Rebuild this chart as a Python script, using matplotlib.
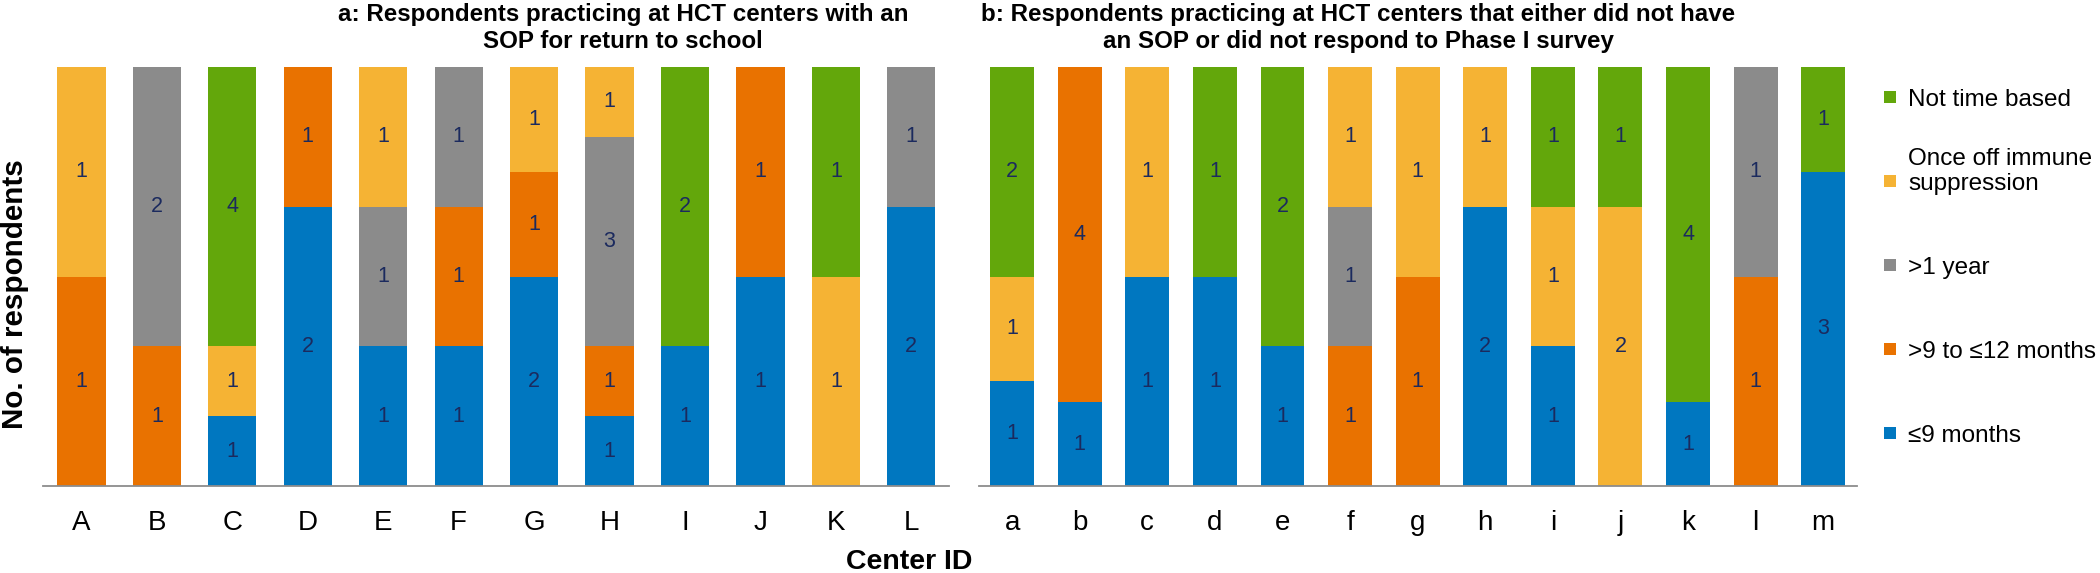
import matplotlib
matplotlib.use('Agg')
import matplotlib.pyplot as plt
from matplotlib.patches import Rectangle
import numpy as np

plt.rcParams['font.family'] = ['Liberation Sans', 'DejaVu Sans']

# stack order from bottom to top
categories = ['≤9 months', '>9 to ≤12 months', '>1 year',
              'Once off immune\nsuppression', 'Not time based']
colors = ['#0077C0', '#E97200', '#8B8B8B', '#F5B334', '#63A70B']

# panel a: centers with an SOP
centers_a = ['A', 'B', 'C', 'D', 'E', 'F', 'G', 'H', 'I', 'J', 'K', 'L']
a_le9 = [0, 0, 1, 2, 1, 1, 2, 1, 1, 1, 0, 2]
a_9to12 = [1, 1, 0, 1, 0, 1, 1, 1, 0, 1, 0, 0]
a_gt1y = [0, 2, 0, 0, 1, 1, 0, 3, 0, 0, 0, 1]
a_once = [1, 0, 1, 0, 1, 0, 1, 1, 0, 0, 1, 0]
a_notime = [0, 0, 4, 0, 0, 0, 0, 0, 2, 0, 1, 0]

# panel b: no SOP / no phase I response
centers_b = ['a', 'b', 'c', 'd', 'e', 'f', 'g', 'h', 'i', 'j', 'k', 'l', 'm']
b_le9 = [1, 1, 1, 1, 1, 0, 0, 2, 1, 0, 1, 0, 3]
b_9to12 = [0, 4, 0, 0, 0, 1, 1, 0, 0, 0, 0, 1, 0]
b_gt1y = [0, 0, 0, 0, 0, 1, 0, 0, 0, 0, 0, 1, 0]
b_once = [1, 0, 1, 0, 0, 1, 1, 1, 1, 2, 0, 0, 0]
b_notime = [2, 0, 0, 1, 2, 0, 0, 0, 1, 1, 4, 0, 1]

W, H = 2100, 573
fig = plt.figure(figsize=(W / 100, H / 100), dpi=100)


def px(x0, y0, x1, y1):
    # pixel box (top-left origin) -> figure fraction rect
    return [x0 / W, 1 - y1 / H, (x1 - x0) / W, (y1 - y0) / H]


def stacked(ax, labels, series, width, xlim):
    data = np.array(series, dtype=float)
    totals = data.sum(axis=0)
    x = np.arange(len(labels))
    bottom = np.zeros(len(labels))
    for vals, col in zip(data, colors):
        frac = vals / totals
        ax.bar(x, frac, width, bottom=bottom, color=col, linewidth=0)
        for xi, v, f, b in zip(x, vals, frac, bottom):
            if v > 0:
                ax.text(xi, b + f / 2, f'{int(v)}', ha='center', va='center',
                        fontsize=15.5, color='#1B2A5E')
        bottom += frac
    ax.set_xlim(*xlim)
    ax.set_ylim(0, 1)
    ax.set_xticks(x)
    ax.set_xticklabels(labels, fontsize=20)
    ax.set_yticks([])
    ax.tick_params(axis='x', length=0, pad=17)
    for s in ['top', 'right', 'left']:
        ax.spines[s].set_visible(False)
    ax.spines['bottom'].set_color('#8C8C8C')
    ax.spines['bottom'].set_linewidth(1.3)


ax1 = fig.add_axes(px(43, 67, 949, 486))
stacked(ax1, centers_a, [a_le9, a_9to12, a_gt1y, a_once, a_notime], 0.64, (-0.51, 11.5))

ax2 = fig.add_axes(px(979, 67, 1857, 486))
stacked(ax2, centers_b, [b_le9, b_9to12, b_gt1y, b_once, b_notime], 0.65, (-0.49, 12.5))

fig.text(623 / W, 1 - 28 / H,
         'a: Respondents practicing at HCT centers with an\nSOP for return to school',
         ha='center', va='center', fontsize=17.4, fontweight='bold', linespacing=1.25)
fig.text(1358 / W, 1 - 28 / H,
         'b: Respondents practicing at HCT centers that either did not have\n'
         'an SOP or did not respond to Phase I survey',
         ha='center', va='center', fontsize=17.4, fontweight='bold', linespacing=1.25)

fig.text(15 / W, 1 - 294 / H, 'No. of respondents', rotation=90,
         ha='center', va='center', fontsize=21.3, fontweight='bold')
fig.text(972 / W, 1 - 562 / H, 'Center ID', ha='right', va='center',
         fontsize=20.5, fontweight='bold')

# legend, top entry first
for i, (lab, col) in enumerate(zip(categories[::-1], colors[::-1])):
    yc = 97 + 84 * i
    fig.add_artist(Rectangle((1884 / W, 1 - (yc + 6) / H), 12 / W, 12 / H,
                             transform=fig.transFigure, color=col, linewidth=0))
    fig.text(1908 / W, 1 - (yc + 9) / H, lab, ha='left', va='baseline',
             fontsize=17.5, linespacing=1.2)

fig.savefig('out.png', dpi=100)
